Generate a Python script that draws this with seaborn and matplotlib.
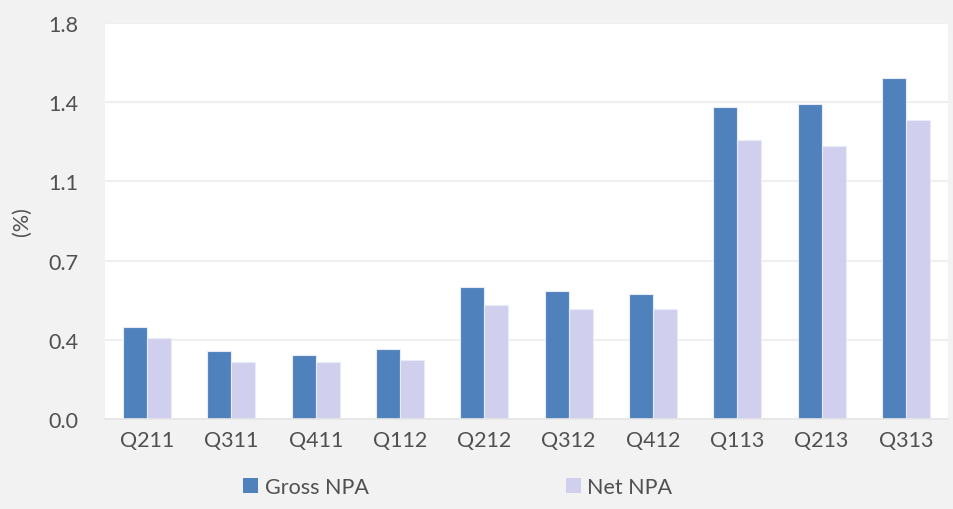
import matplotlib
matplotlib.use("Agg")
import matplotlib.pyplot as plt
import seaborn as sns
import pandas as pd
import numpy as np
from matplotlib.patches import Patch

quarters = ["Q211", "Q311", "Q411", "Q112", "Q212", "Q312", "Q412", "Q113", "Q213", "Q313"]
gross_npa = [0.42, 0.31, 0.29, 0.32, 0.60, 0.58, 0.57, 1.42, 1.43, 1.55]
net_npa = [0.37, 0.26, 0.26, 0.27, 0.52, 0.50, 0.50, 1.27, 1.24, 1.36]
series_names = ["Gross NPA", "Net NPA"]
y_ticks = [0.0, 0.36, 0.72, 1.08, 1.44, 1.8]

df = pd.DataFrame({
    "quarter": quarters * 2,
    "value": gross_npa + net_npa,
    "series": [series_names[0]] * len(quarters) + [series_names[1]] * len(quarters),
})

sns.set_theme(style="white")
plt.rcParams["font.family"] = ["Lato", "DejaVu Sans"]
text_color = "#505050"
colors = ["#4f81bd", "#d0d0ee"]

fig = plt.figure(figsize=(9.54, 5.10), dpi=100, facecolor="#f2f2f2")
ax = fig.add_axes([105 / 954, (510 - 420) / 510, (948 - 105) / 954, (420 - 24) / 510])
ax.set_facecolor("white")

sns.barplot(data=df, x="quarter", y="value", hue="series",
            palette=colors, saturation=1, width=0.57, ax=ax,
            edgecolor="#e8ecf8", linewidth=0.8, legend=False)

ax.set_ylim(0, 1.8)
ax.set_xlim(-0.5, len(quarters) - 0.5)
ax.set_yticks(y_ticks)
ax.set_yticklabels([f"{v:.1f}" for v in y_ticks])
ax.yaxis.grid(True, color="#efefef", linewidth=1.5)
ax.set_axisbelow(True)
for s in ["top", "right", "left"]:
    ax.spines[s].set_visible(False)
ax.spines["bottom"].set_color("#e6e6e6")
ax.spines["bottom"].set_linewidth(1.2)

ax.tick_params(axis="y", length=0, pad=19, labelsize=15.5, labelcolor=text_color)
ax.tick_params(axis="x", length=0, pad=8, labelsize=15.5, labelcolor=text_color)
ax.set_xlabel("")
ax.set_ylabel("(%)", fontsize=15.5, color=text_color, labelpad=12)

handles = [Patch(facecolor=colors[0], edgecolor="none"), Patch(facecolor=colors[1], edgecolor="none")]
fig.legend(handles, series_names, loc="center left", bbox_to_anchor=(224 / 954, 1 - 488 / 510),
           ncol=2, frameon=False, fontsize=15.5, labelcolor=text_color,
           handlelength=0.7, handleheight=0.7, handletextpad=0.3, columnspacing=9.15)

fig.savefig("out.png", dpi=100, facecolor=fig.get_facecolor())
